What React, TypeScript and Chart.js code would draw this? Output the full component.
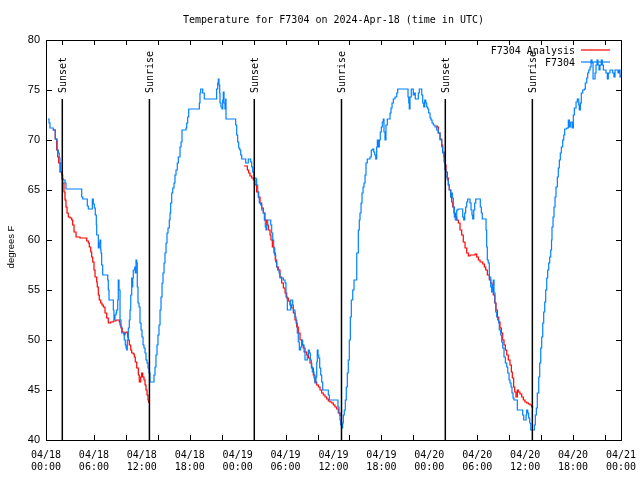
import React, { useEffect, useRef } from "react";
import { Chart, registerables } from "chart.js";
Chart.register(...registerables);

const titleText = "Temperature for F7304 on 2024-Apr-18 (time in UTC)";
const yTitle = "degrees F";
const xTickDates = ["04/18","04/18","04/18","04/18","04/19","04/19","04/19","04/19","04/20","04/20","04/20","04/20","04/21"];
const xTickTimes = ["00:00","06:00","12:00","18:00","00:00","06:00","12:00","18:00","00:00","06:00","12:00","18:00","00:00"];
const xMarkHours = [2,6,10,14,18,22,26,30,34,38,42,46,50,54,58,62,66,70];
const yTickValues = [40,45,50,55,60,65,70,75,80];
const sunHours = [2.04, 12.95, 26.08, 37.0, 50.0, 60.9];
const sunLabels = ["Sunset","Sunrise","Sunset","Sunrise","Sunset","Sunrise"];
const sunLineTop = 74.1;
const seriesNames = ["F7304 Analysis", "F7304"];

// observed station (hours since 04/18 00:00 UTC)
const obsHours = [
0.25,0.38,0.50,0.91,1.16,1.34,1.41,1.54,1.66,1.75,1.84,2.00,2.17,2.38,2.50,4.35,4.47,4.60,5.01,5.17,5.30,5.76,5.80,5.92,6.05,6.17,6.30,6.35,6.55,6.67,6.76,6.85,6.89,6.97,7.10,7.73,7.80,7.89,8.35,8.43,8.51,8.64,8.77,8.85,8.98,9.05,9.14,9.27,9.39,9.48,9.64,9.80,9.93,10.02,10.11,10.18,10.31,10.43,10.52,10.61,10.73,10.77,10.86,10.93,11.11,11.18,11.27,11.36,11.43,11.52,11.65,11.77,11.90,12.02,12.15,12.27,12.40,12.52,12.65,12.77,12.90,13.02,13.44,13.52,13.65,13.77,13.90,14.02,14.15,14.28,14.40,14.53,14.65,14.78,14.90,15.03,15.15,15.28,15.44,15.53,15.61,15.74,15.87,16.03,16.15,16.28,16.44,16.57,16.78,16.91,17.03,17.53,17.62,17.74,17.87,19.12,19.20,19.28,19.37,19.53,19.62,19.82,21.29,21.37,21.50,21.58,21.66,21.75,21.79,21.91,22.04,22.13,22.20,22.29,22.41,22.50,22.54,23.67,23.75,23.88,24.00,24.13,24.26,24.38,24.51,24.92,25.01,25.21,25.33,25.46,25.63,25.76,25.88,26.05,26.30,26.38,26.51,26.64,26.71,26.88,27.01,27.21,27.34,27.46,27.55,27.64,27.76,28.05,28.14,28.26,28.39,28.51,28.64,28.76,28.89,29.01,29.18,29.30,29.72,29.93,30.05,30.22,30.47,30.64,30.77,30.89,30.97,31.18,31.31,31.47,31.59,31.72,31.89,32.02,32.14,32.31,32.43,32.60,32.72,32.85,32.97,33.10,33.22,33.35,33.56,33.68,33.81,33.90,33.97,34.06,34.15,34.27,34.40,34.52,34.65,35.22,35.35,35.48,36.48,36.56,36.69,36.81,36.90,37.03,37.15,37.23,37.35,37.48,37.60,37.73,37.85,37.98,38.11,38.23,38.41,38.57,38.91,39.11,39.23,39.32,39.45,39.57,39.70,39.82,39.95,40.07,40.23,40.49,40.57,40.73,40.91,41.04,41.16,41.29,41.41,41.49,41.61,41.74,41.86,41.99,42.11,42.24,42.32,42.45,42.57,42.74,42.91,43.08,43.20,43.33,43.49,43.70,43.92,44.04,45.24,45.33,45.42,45.49,45.58,45.74,45.92,45.99,46.12,46.24,46.49,46.62,46.74,46.92,47.05,47.17,47.30,47.42,47.55,47.67,47.80,47.92,48.09,48.21,48.34,48.50,48.71,48.92,49.12,49.34,49.55,49.67,49.84,49.96,50.09,50.25,50.38,50.50,50.68,50.80,50.88,51.00,51.13,51.25,51.43,51.59,52.05,52.18,52.30,52.43,52.55,52.68,52.80,52.97,53.09,53.22,53.34,53.43,53.56,53.68,53.81,54.26,54.38,54.51,54.63,55.01,55.10,55.18,55.26,55.38,55.51,55.69,55.81,55.94,56.01,56.10,56.22,56.31,56.44,56.56,56.69,56.76,56.94,57.06,57.19,57.35,57.52,57.69,57.82,57.98,58.10,58.23,58.35,58.48,58.60,58.94,59.02,59.57,59.69,59.82,60.02,60.11,60.19,60.32,60.44,60.57,60.70,61.02,61.15,61.27,61.40,61.52,61.70,61.82,61.95,62.07,62.20,62.32,62.45,62.57,62.70,62.82,62.95,63.07,63.20,63.30,63.36,63.49,63.61,63.74,63.86,64.03,64.15,64.28,64.40,64.53,64.70,64.83,64.95,65.20,65.40,65.53,65.70,65.90,66.03,66.16,66.37,66.53,66.71,66.78,66.91,67.03,67.21,67.41,67.53,67.71,67.83,67.96,68.12,68.25,68.37,68.50,68.62,68.75,68.87,69.00,69.12,69.25,69.37,69.53,69.66,69.79,70.00,70.12,70.29,70.41,70.62,70.87,70.96,71.12,71.25,71.50,71.63,71.75,71.88,72.00
];
const obsTemps = [
72.1,71.7,71.2,71.0,70.1,70.0,69.0,68.7,68.2,67.7,66.8,66.1,66.0,65.7,65.1,65.1,64.3,64.1,64.1,63.4,63.1,63.1,64.1,63.6,63.2,62.5,61.5,60.5,59.2,59.7,60.0,59.0,58.7,57.5,56.5,56.0,55.0,54.0,54.0,53.0,52.0,52.5,52.7,53.0,54.0,56.0,55.0,52.0,51.3,50.7,50.7,50.0,49.5,49.2,49.0,50.0,51.2,52.0,53.0,54.5,56.2,55.3,56.2,57.0,57.3,56.7,58.0,57.7,55.3,53.7,53.3,51.7,51.0,50.3,49.5,49.2,48.7,48.0,47.7,47.2,46.7,45.8,45.8,46.5,47.3,48.5,49.5,50.5,51.5,53.0,54.3,55.7,56.7,57.7,58.7,59.7,60.7,61.2,62.0,62.7,63.7,64.7,65.2,65.7,66.5,67.0,67.7,68.3,69.3,69.8,71.0,71.2,71.7,72.3,73.1,73.1,73.7,74.7,75.1,75.1,74.7,74.1,74.1,75.1,75.7,76.1,75.5,74.7,73.7,73.3,73.1,74.0,74.8,73.7,73.1,74.1,72.1,72.1,71.5,70.5,69.8,69.2,69.0,68.5,68.1,68.1,67.7,67.7,68.1,68.1,67.8,67.3,66.8,66.2,66.1,65.5,64.8,64.2,63.7,63.5,63.0,62.7,62.0,61.3,61.0,61.5,62.0,62.0,61.5,60.7,60.0,59.2,58.5,57.8,57.3,57.0,56.7,56.2,56.0,55.7,54.3,53.0,53.0,54.0,54.0,53.5,53.0,52.3,51.7,50.7,49.8,49.0,49.3,50.0,49.5,48.8,48.0,48.0,48.5,49.0,48.7,48.0,47.3,46.8,46.2,45.7,46.3,47.8,49.0,48.5,48.2,47.2,46.5,45.8,45.0,45.0,44.5,44.0,44.0,43.3,42.7,42.0,41.5,41.2,41.7,42.5,43.0,44.0,45.3,46.7,48.0,50.0,52.3,54.0,55.0,56.0,58.7,61.0,62.0,62.7,63.7,64.7,65.3,65.7,66.5,67.7,68.1,68.1,68.3,69.0,69.1,68.8,68.5,68.1,69.3,70.0,69.3,70.0,70.8,71.3,71.8,72.1,70.8,70.0,71.5,72.1,72.1,72.7,73.2,73.7,74.1,74.3,74.7,75.1,75.1,74.3,73.7,73.1,74.3,75.1,75.1,74.5,74.7,74.1,74.1,74.7,75.1,75.1,74.5,73.7,73.3,74.0,73.7,73.3,73.1,72.7,72.2,72.0,71.7,71.5,71.3,71.0,70.7,70.0,69.3,68.7,67.8,67.0,66.3,66.0,65.5,65.0,64.3,64.7,64.2,63.3,62.3,62.0,63.0,63.1,63.1,62.3,62.0,62.7,63.3,63.8,64.1,64.1,63.7,63.0,62.5,62.1,63.0,63.7,64.1,64.1,63.3,62.7,62.1,62.1,61.0,59.3,58.0,57.7,56.3,55.3,54.8,55.5,56.0,54.7,53.7,52.8,52.3,52.0,51.7,51.0,50.5,49.8,49.2,48.3,47.7,47.3,46.7,46.0,45.7,45.3,44.7,44.2,44.0,44.0,43.0,43.0,42.5,42.0,42.0,42.5,43.0,42.7,42.2,41.7,41.0,41.0,41.5,42.5,43.2,44.7,46.3,47.7,49.2,50.3,51.7,52.8,53.8,55.0,56.2,57.0,57.7,58.3,59.0,60.0,61.3,62.3,63.3,64.3,65.3,66.3,67.2,68.0,68.7,69.3,70.0,70.5,71.1,71.2,72.0,71.3,71.8,71.2,72.5,73.2,73.8,74.1,73.5,73.0,73.7,74.7,75.0,75.1,75.7,76.2,76.7,77.0,77.3,78.0,77.7,76.1,76.1,76.7,77.5,78.0,77.5,77.0,77.5,78.0,77.5,77.0,77.0,76.7,76.1,76.7,77.0,77.0,76.7,76.3,77.0,77.0,76.7,77.0,76.3,76.5
];

// analysis (null separates nightly runs)
const anaHours = [
0.85,1.16,1.34,1.47,1.59,1.75,1.97,2.09,2.25,2.38,2.50,2.63,2.79,3.01,3.22,3.34,3.51,3.76,4.26,4.67,5.10,5.30,5.42,5.60,5.72,5.85,6.01,6.14,6.35,6.42,6.55,6.67,6.85,7.01,7.18,7.39,7.60,7.80,8.10,8.43,8.77,9.05,9.18,9.27,9.39,9.55,9.77,9.89,10.02,10.23,10.31,10.43,10.61,10.73,10.93,11.06,11.18,11.36,11.56,11.68,11.86,11.98,12.11,12.27,12.40,12.52,12.65,12.77,12.86,
18.0,
24.79,25.04,25.21,25.38,25.54,25.76,25.96,26.17,26.38,26.58,26.80,27.01,27.21,27.42,27.64,27.84,28.05,28.17,28.34,28.55,28.71,28.89,29.09,29.30,29.51,29.72,29.93,30.14,30.34,30.55,30.77,30.97,31.18,31.39,31.59,31.81,32.02,32.22,32.43,32.65,32.85,33.06,33.27,33.47,33.68,33.90,34.10,34.31,34.52,34.72,34.94,35.15,35.35,35.56,35.78,35.98,36.19,36.40,36.60,36.81,
42.0,
48.84,49.00,49.12,49.34,49.55,49.67,49.84,49.96,50.09,50.25,50.38,50.50,50.68,50.80,50.93,51.09,51.25,51.43,51.63,51.84,52.05,52.25,52.47,52.68,52.88,53.09,53.30,53.72,53.93,54.14,54.35,54.69,54.89,55.06,55.26,55.51,55.69,55.85,56.01,56.19,56.35,56.52,56.69,56.85,57.02,57.19,57.35,57.52,57.69,57.89,58.10,58.27,58.39,58.56,58.69,58.85,59.02,59.14,59.35,59.57,59.77,59.98,60.19,60.40,60.61,60.82,61.02
];
const anaTemps = [
71.0,70.1,69.0,68.3,67.7,66.8,66.5,65.7,64.8,64.0,63.3,62.7,62.3,62.2,62.0,61.5,60.8,60.3,60.2,60.2,59.9,59.7,59.3,58.8,58.3,57.8,57.0,56.3,55.8,55.3,54.5,54.0,53.7,53.5,53.3,52.7,52.2,51.7,51.8,51.9,52.0,52.0,51.8,51.5,51.2,50.8,50.5,50.7,50.8,50.3,50.0,49.5,49.0,48.7,48.6,48.3,47.8,47.2,46.5,45.8,46.3,46.7,46.3,46.0,45.5,45.0,44.5,44.0,43.7,
null,
67.4,67.4,67.0,66.7,66.4,66.2,66.0,65.5,64.8,64.3,63.7,63.2,62.7,62.0,61.5,61.0,60.5,60.0,59.3,58.7,58.0,57.3,57.0,56.3,55.7,55.2,54.7,54.2,53.9,53.5,53.2,52.7,52.0,51.3,50.7,50.0,49.5,49.2,48.8,48.5,48.2,47.7,47.2,46.5,45.8,45.5,45.3,45.0,44.7,44.5,44.3,44.1,43.9,43.8,43.7,43.5,43.3,43.1,42.7,42.4,
null,
71.4,71.3,70.7,70.1,69.5,68.8,68.3,67.5,66.8,66.2,65.5,65.0,64.3,63.8,63.3,62.7,62.3,62.0,61.7,61.0,60.5,59.8,59.2,58.7,58.4,58.5,58.5,58.6,58.3,58.0,57.8,57.6,57.3,57.0,56.5,56.0,55.7,55.2,54.5,53.7,53.0,52.3,51.8,51.2,50.7,50.0,49.5,49.0,48.5,48.0,47.5,46.8,46.2,45.3,44.8,44.3,45.0,44.8,44.6,44.3,44.0,43.8,43.7,43.6,43.5,43.3,43.3
];

const MONO = '"DejaVu Sans Mono", "Liberation Mono", monospace';
const SANS = '"Liberation Sans", Arial, sans-serif';
const RED = "#ff0000";
const BLUE = "#0080ff";

const overlay = {
  id: "overlay",
  afterDatasetsDraw(chart: any) {
    const { ctx, chartArea: ca, scales } = chart;
    const xs = scales.x, ys = scales.y;
    const L = Math.round(ca.left), R = Math.round(ca.right), T = Math.round(ca.top), B = Math.round(ca.bottom);
    ctx.save();
    // sun lines and labels
    ctx.strokeStyle = "#000";
    ctx.lineWidth = 1.5;
    const topPx = ys.getPixelForValue(sunLineTop);
    sunHours.forEach((h, i) => {
      const px = xs.getPixelForValue(h);
      ctx.beginPath();
      ctx.moveTo(px, topPx);
      ctx.lineTo(px, B);
      ctx.stroke();
      ctx.save();
      ctx.translate(px, topPx - 6);
      ctx.rotate(-Math.PI / 2);
      ctx.fillStyle = "#000";
      ctx.font = "10px " + MONO;
      ctx.textAlign = "left";
      ctx.textBaseline = "middle";
      ctx.fillText(sunLabels[i], 0, 1);
      ctx.restore();
    });
    // border
    ctx.lineWidth = 1;
    ctx.strokeStyle = "#000";
    ctx.strokeRect(L + 0.5, T + 0.5, R - L, B - T);
    // y ticks
    ctx.beginPath();
    yTickValues.forEach((v) => {
      const py = Math.round(ys.getPixelForValue(v)) + 0.5;
      ctx.moveTo(L, py); ctx.lineTo(L + 6, py);
      ctx.moveTo(R - 5, py); ctx.lineTo(R + 1, py);
    });
    // x ticks
    xMarkHours.forEach((h) => {
      const px = Math.round(xs.getPixelForValue(h)) + 0.5;
      ctx.moveTo(px, B); ctx.lineTo(px, B - 5);
      ctx.moveTo(px, T); ctx.lineTo(px, T + 5);
    });
    ctx.stroke();
    // title
    ctx.fillStyle = "#000";
    ctx.font = "10px " + MONO;
    ctx.textAlign = "center";
    ctx.textBaseline = "middle";
    ctx.fillText(titleText, (L + R) / 2, 20);
    // y axis title
    ctx.save();
    ctx.translate(11, 247);
    ctx.rotate(-Math.PI / 2);
    ctx.font = "9.5px " + SANS;
    ctx.textAlign = "center";
    ctx.textBaseline = "middle";
    ctx.fillText(yTitle, 0, 0);
    ctx.restore();
    // legend
    ctx.font = "10px " + MONO;
    ctx.textAlign = "right";
    ctx.textBaseline = "middle";
    const rows = [RED, BLUE];
    rows.forEach((c, i) => {
      const yy = 50 + i * 12;
      ctx.fillStyle = "#000";
      ctx.fillText(seriesNames[i], 575, yy + 1);
      ctx.strokeStyle = c;
      ctx.lineWidth = 1.2;
      ctx.beginPath();
      ctx.moveTo(581, yy);
      ctx.lineTo(610, yy);
      ctx.stroke();
    });
    ctx.restore();
  },
};

export default function App() {
  const ref = useRef<HTMLCanvasElement | null>(null);
  useEffect(() => {
    if (!ref.current) return;
    const obsPts = obsHours.map((h, i) => ({ x: h, y: obsTemps[i] }));
    const anaPts = anaHours.map((h, i) => ({ x: h, y: anaTemps[i] }));
    const chart = new Chart(ref.current, {
      type: "line",
      data: {
        datasets: [
          { label: seriesNames[0], data: anaPts as any, borderColor: RED, borderWidth: 1.2, pointRadius: 0, stepped: true, spanGaps: false, order: 1, fill: false },
          { label: seriesNames[1], data: obsPts as any, borderColor: BLUE, borderWidth: 1.2, pointRadius: 0, stepped: true, order: 0, fill: false },
        ],
      },
      options: {
        responsive: false,
        animation: false,
        events: [],
        layout: { padding: { top: 40, right: 19, left: 0, bottom: 0 } },
        plugins: { legend: { display: false }, tooltip: { enabled: false }, title: { display: false } },
        scales: {
          x: {
            type: "linear",
            min: 0,
            max: 72,
            afterFit: (s: any) => { s.height = 40; s.paddingLeft = 0; s.paddingRight = 0; },
            grid: { display: false, drawTicks: false },
            border: { display: false },
            ticks: {
              stepSize: 6,
              autoSkip: false,
              maxRotation: 0,
              padding: 9,
              color: "#000",
              font: { family: MONO, size: 10, lineHeight: 1.2 },
              callback: (v: any) => {
                const i = Math.round(Number(v) / 6);
                return [xTickDates[i], xTickTimes[i]];
              },
            },
          },
          y: {
            min: 40,
            max: 80,
            afterFit: (s: any) => { s.width = 46; s.paddingTop = 0; s.paddingBottom = 0; },
            grid: { display: false, drawTicks: false },
            border: { display: false },
            ticks: { stepSize: 5, padding: 6, color: "#000", font: { family: SANS, size: 11 } },
            title: { display: false },
          },
        },
      },
      plugins: [overlay],
    });
    return () => chart.destroy();
  }, []);
  return (
    <div style={{ position: "absolute", left: 0, top: 0, width: 640, height: 480, background: "#fff" }}>
      <canvas ref={ref} width={640} height={480} style={{ display: "block" }} />
    </div>
  );
}
